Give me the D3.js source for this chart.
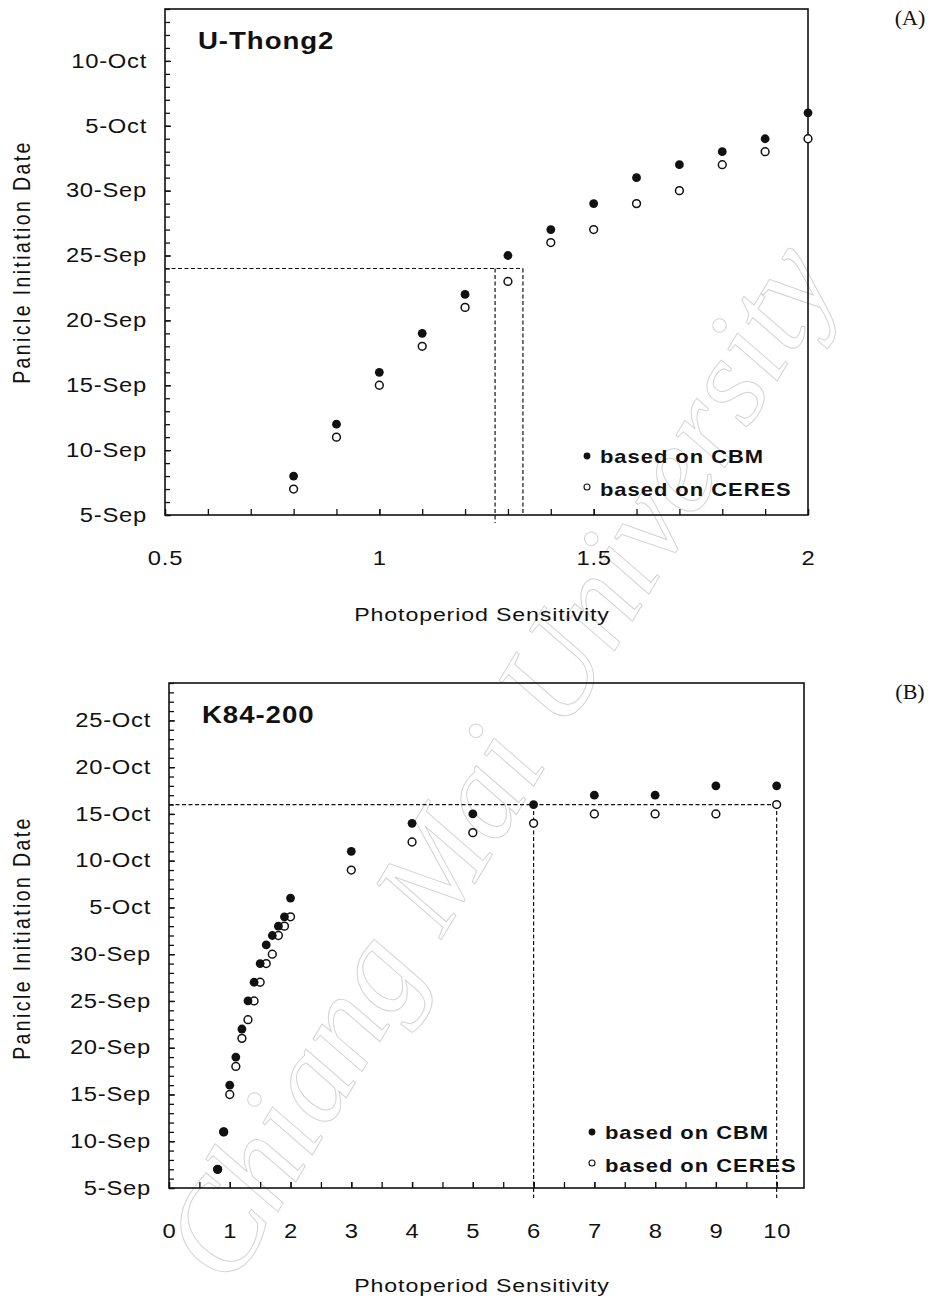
<!DOCTYPE html>
<html>
<head>
<meta charset="utf-8">
<title>Panicle initiation date vs photoperiod sensitivity</title>
<script src="https://cdn.jsdelivr.net/npm/d3@7"></script>
<style>
  body { margin: 0; background: #fff; }
  text { font-family: "Liberation Sans", Arial, sans-serif; fill: #111; }
</style>
</head>
<body>
<div id="chart"></div>
<script>
// values (photoperiod sensitivity -> panicle initiation date)
var psA    = [0.8, 0.9, 1.0, 1.1, 1.2, 1.3, 1.4, 1.5, 1.6, 1.7, 1.8, 1.9, 2.0];
var cbmA   = ["8-Sep","12-Sep","16-Sep","19-Sep","22-Sep","25-Sep","27-Sep","29-Sep","1-Oct","2-Oct","3-Oct","4-Oct","6-Oct"];
var ceresA = ["7-Sep","11-Sep","15-Sep","18-Sep","21-Sep","23-Sep","26-Sep","27-Sep","29-Sep","30-Sep","2-Oct","3-Oct","4-Oct"];

var psB    = [0.8, 0.9, 1.0, 1.1, 1.2, 1.3, 1.4, 1.5, 1.6, 1.7, 1.8, 1.9, 2, 3, 4, 5, 6, 7, 8, 9, 10];
var cbmB   = ["7-Sep","11-Sep","16-Sep","19-Sep","22-Sep","25-Sep","27-Sep","29-Sep","1-Oct","2-Oct","3-Oct","4-Oct","6-Oct",
              "11-Oct","14-Oct","15-Oct","16-Oct","17-Oct","17-Oct","18-Oct","18-Oct"];
var ceresB = ["7-Sep","11-Sep","15-Sep","18-Sep","21-Sep","23-Sep","25-Sep","27-Sep","29-Sep","30-Sep","2-Oct","3-Oct","4-Oct",
              "9-Oct","12-Oct","13-Oct","14-Oct","15-Oct","15-Oct","15-Oct","16-Oct"];

// axis ticks
var xTicksA = [0.5, 1, 1.5, 2];
var xTicksB = [0, 1, 2, 3, 4, 5, 6, 7, 8, 9, 10];
var yTicksA = ["5-Sep","10-Sep","15-Sep","20-Sep","25-Sep","30-Sep","5-Oct","10-Oct"];
var yTicksB = ["5-Sep","10-Sep","15-Sep","20-Sep","25-Sep","30-Sep","5-Oct","10-Oct","15-Oct","20-Oct","25-Oct"];

// dashed guide lines (date level, sensitivity values)
var guideDateA = "24-Sep", guidePsA = [1.27, 1.335];
var guideDateB = "16-Oct", guidePsB = [6, 10];

var seriesNames = ["based on CBM", "based on CERES"];

var parse = d3.timeParse("%d-%b");
var fmt = d3.timeFormat("%-d-%b");
var WIDE = 1.22;   // the scanned lettering is wider than plain Arial

var svg = d3.select("#chart").append("svg")
    .attr("width", 936)
    .attr("height", 1304);

// faint watermark
svg.append("text")
    .attr("transform", "translate(497,760) rotate(-59)")
    .attr("text-anchor", "middle")
    .attr("dy", "0.35em")
    .style("font-family", "'Liberation Serif', serif")
    .style("font-style", "italic")
    .style("font-size", "128px")
    .style("fill", "none")
    .style("stroke", "#d4d4d4")
    .style("stroke-width", 1)
    .text("Chiang Mai University");

// widen text horizontally, keeping its anchor point
function stretch(sel, k) {
  sel.each(function() {
    var t = d3.select(this);
    var x = +t.attr("x") || 0;
    t.attr("x", x / k).attr("transform", (t.attr("transform") || "") + " scale(" + k + ",1)");
  });
}

var panels = [
  {left: 165, right: 808, top: 9, bottom: 515, xDomain: [0.5, 2.0], xMinor: 15, xTicks: xTicksA,
   yMin: "5-Sep", yMax: "14-Oct", yTicks: yTicksA, ps: psA, cbm: cbmA, ceres: ceresA,
   name: "U-Thong2", tag: "(A)", guideDate: guideDateA, guidePs: guidePsA,
   guideExtend: [8, 0], legendX: 587, legendY: 456, yTitleY: 262, xTitleY: 621},
  {left: 169, right: 804, top: 683, bottom: 1188, xDomain: [0, 10.45], xMinor: 20, xTicks: xTicksB,
   yMin: "5-Sep", yMax: "29-Oct", yTicks: yTicksB, ps: psB, cbm: cbmB, ceres: ceresB,
   name: "K84-200", tag: "(B)", guideDate: guideDateB, guidePs: guidePsB,
   guideExtend: [10, 10], legendX: 592, legendY: 1132, yTitleY: 938, xTitleY: 1292}
];

panels.forEach(drawPanel);

function drawPanel(p) {
  var x = d3.scaleLinear().domain(p.xDomain).range([p.left, p.right]);
  var y = d3.scaleTime().domain([parse(p.yMin), parse(p.yMax)]).range([p.bottom, p.top]);
  var g = svg.append("g");

  // minor ticks, all pointing inward
  g.append("g")
      .attr("transform", "translate(" + p.left + ",0)")
      .call(d3.axisLeft(y).tickValues(d3.timeDay.range(parse(p.yMin), d3.timeDay.offset(parse(p.yMax), 1)))
        .tickSize(-5).tickFormat(""))
      .call(function(a) { a.select(".domain").remove(); });
  g.append("g")
      .attr("transform", "translate(0," + p.bottom + ")")
      .call(d3.axisBottom(x).tickValues(x.ticks(p.xMinor)).tickSize(-6).tickFormat(""))
      .call(function(a) { a.select(".domain").remove(); });

  // labelled ticks
  g.append("g")
      .attr("class", "lab-axis")
      .attr("transform", "translate(" + p.left + ",0)")
      .call(d3.axisLeft(y).tickValues(p.yTicks.map(parse)).tickSize(-6).tickPadding(18).tickFormat(fmt))
      .call(function(a) { a.select(".domain").remove(); });
  g.append("g")
      .attr("class", "lab-axis")
      .attr("transform", "translate(0," + p.bottom + ")")
      .call(d3.axisBottom(x).tickValues(p.xTicks).tickSize(-6).tickPadding(36).tickFormat(d3.format("")))
      .call(function(a) { a.select(".domain").remove(); });

  g.selectAll(".tick line").attr("stroke", "#111").attr("stroke-width", 1.3);
  var tickText = g.selectAll(".lab-axis .tick text")
      .style("font-family", "'Liberation Sans', Arial, sans-serif")
      .style("font-size", "19.5px")
      .style("letter-spacing", "0.6px")
      .attr("fill", "#111");
  stretch(tickText, WIDE);

  // frame
  g.append("rect")
      .attr("x", p.left).attr("y", p.top)
      .attr("width", p.right - p.left).attr("height", p.bottom - p.top)
      .attr("fill", "none").attr("stroke", "#111").attr("stroke-width", 1.6);

  // dashed guides
  var gy = y(parse(p.guideDate));
  var dash = "4,2.5";
  g.append("line")
      .attr("x1", p.left).attr("x2", x(d3.max(p.guidePs)))
      .attr("y1", gy).attr("y2", gy)
      .attr("stroke", "#111").attr("stroke-width", 1.2).attr("stroke-dasharray", dash);
  g.selectAll(".guide").data(p.guidePs).enter().append("line")
      .attr("x1", function(d) { return x(d); })
      .attr("x2", function(d) { return x(d); })
      .attr("y1", gy)
      .attr("y2", function(d, i) { return p.bottom + p.guideExtend[i]; })
      .attr("stroke", "#111").attr("stroke-width", 1.2).attr("stroke-dasharray", dash);

  // points: CBM filled, CERES open
  g.selectAll(".ceres").data(p.ps).enter().append("circle")
      .attr("cx", function(d) { return x(d); })
      .attr("cy", function(d, i) { return y(parse(p.ceres[i])); })
      .attr("r", 3.9)
      .attr("fill", "#fff").attr("stroke", "#111").attr("stroke-width", 1.5);
  g.selectAll(".cbm").data(p.ps).enter().append("circle")
      .attr("cx", function(d) { return x(d); })
      .attr("cy", function(d, i) { return y(parse(p.cbm[i])); })
      .attr("r", 4.4)
      .attr("fill", "#111");

  // legend
  var lg = g.append("g").attr("transform", "translate(" + p.legendX + "," + p.legendY + ")");
  lg.append("circle").attr("cx", 0).attr("cy", 0).attr("r", 3.4).attr("fill", "#111");
  lg.append("circle").attr("cx", 0).attr("cy", 31).attr("r", 3).attr("fill", "#fff")
      .attr("stroke", "#111").attr("stroke-width", 1.1);
  var legText = lg.selectAll(".lab").data(seriesNames).enter().append("text")
      .attr("x", 13)
      .attr("y", function(d, i) { return 7 + i * 33; })
      .style("font-size", "18px")
      .style("font-weight", "bold")
      .style("letter-spacing", "0.8px")
      .text(function(d) { return d; });
  stretch(legText, WIDE);

  // cultivar name
  var nameText = g.append("text")
      .attr("x", p.left + 33)
      .attr("y", p.top + 40)
      .style("font-size", "23px")
      .style("font-weight", "bold")
      .style("letter-spacing", "0.8px")
      .text(p.name);
  stretch(nameText, 1.2);

  // panel tag
  g.append("text")
      .attr("x", 910)
      .attr("y", p.top + 16)
      .attr("text-anchor", "middle")
      .style("font-family", "'Liberation Serif', serif")
      .style("font-size", "22px")
      .text(p.tag);

  // axis titles
  g.append("text")
      .attr("transform", "translate(30," + p.yTitleY + ") rotate(-90) scale(1,1.2)")
      .attr("text-anchor", "middle")
      .style("font-size", "19.5px")
      .style("letter-spacing", "2.4px")
      .text("Panicle Initiation Date");
  var xTitle = g.append("text")
      .attr("x", 482)
      .attr("y", p.xTitleY)
      .attr("text-anchor", "middle")
      .style("font-size", "19px")
      .style("letter-spacing", "0.7px")
      .text("Photoperiod Sensitivity");
  stretch(xTitle, WIDE);
}
</script>
</body>
</html>
